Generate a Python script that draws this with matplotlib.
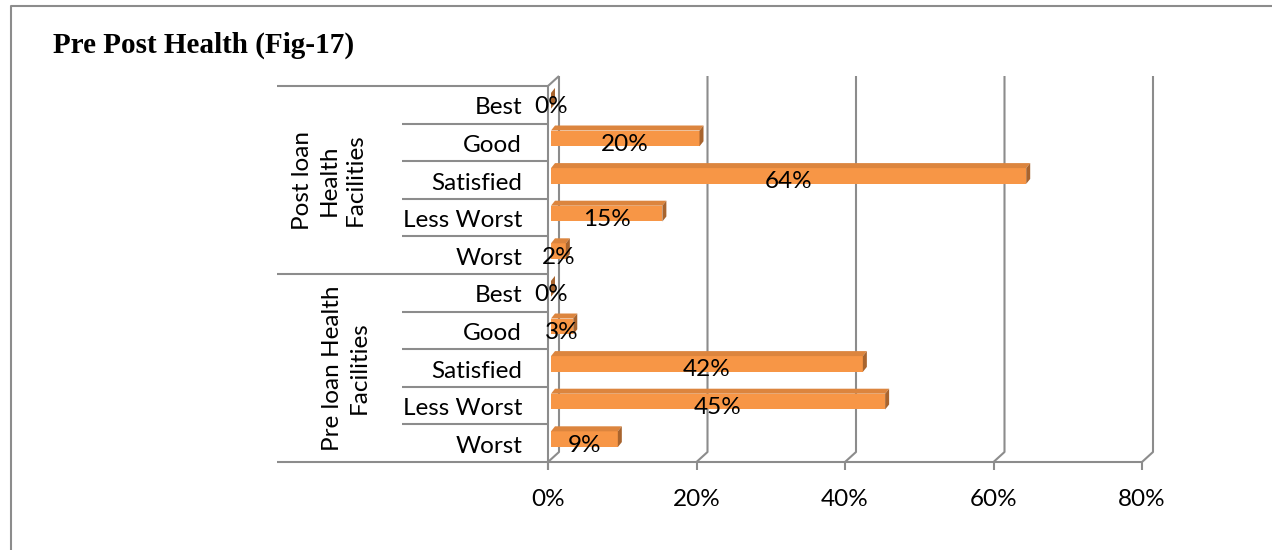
import matplotlib
matplotlib.use("Agg")
import matplotlib.pyplot as plt
from matplotlib.lines import Line2D
from matplotlib.patches import Polygon
from matplotlib.transforms import Affine2D, IdentityTransform, blended_transform_factory

TITLE = "Pre Post Health (Fig-17)"
GROUPS = ["Pre loan Health\nFacilities", "Post loan\nHealth\nFacilities"]
LEVELS = ["Worst", "Less Worst", "Satisfied", "Good", "Best"]
PRE_VALUES = [9, 45, 42, 3, 0]
POST_VALUES = [2, 15, 64, 20, 0]
X_TICKS = [0, 20, 40, 60, 80]

W, H = 1272, 550
GRAY = "#8c8c8c"
FACE = "#f79646"
TOP = "#dc853e"
SIDE = "#a8642e"
FONT = "Lato"
FS = 17.5

WALL = (11, 10)       # depth of the back wall, pixels
BAR_SHIFT = (3, 4)    # bars sit a bit inside the box
BAR_DEPTH = (4, 5)
BAR_H = 0.42

fig = plt.figure(figsize=(W / 100, H / 100), dpi=100)
ax = fig.add_axes([548 / W, (H - 462) / H, 594 / W, 376 / H])
n = len(LEVELS) * 2
ax.set_xlim(0, 80)
ax.set_ylim(0, n)
ax.axis("off")

ident = IdentityTransform()


def px(x, y):
    return ax.transData.transform((x, y))


def shift(dx, dy):
    return ax.transData + Affine2D().translate(dx, dy)


def line(pts, z=1):
    xs, ys = zip(*pts)
    ax.add_line(Line2D(xs, ys, transform=ident, color=GRAY, lw=1.5,
                       solid_capstyle="butt", clip_on=False, zorder=z))


# value gridlines on the back wall, with ticks on the front floor edge
for v in X_TICKS:
    x0, y0 = px(v, 0)
    _, ytop = px(v, n)
    line([(x0, y0), (x0 + WALL[0], y0 + WALL[1]), (x0 + WALL[0], ytop + WALL[1])])
    line([(x0, y0), (x0, y0 - 8)])
    ax.text(v, 0, f"{v}%", transform=shift(0, -38), ha="center", va="center",
            fontsize=FS, family=FONT)

x0, y0 = px(0, 0)
x1, _ = px(80, 0)
_, ytop = px(0, n)
line([(x0, y0), (x1, y0)])
line([(x0, y0 - 8), (x0, ytop), (x0 + WALL[0], ytop + WALL[1])])

# category separators, longer at group boundaries
for k in range(n + 1):
    xl = 277 if k % len(LEVELS) == 0 else 402
    xa, yk = px(0, k)
    line([(xl, yk), (xa, yk)])

values = PRE_VALUES + POST_VALUES
names = LEVELS + LEVELS
ys = [i + 0.5 for i in range(n)]

ax.barh(ys, values, height=BAR_H, color=FACE, transform=shift(*BAR_SHIFT),
        clip_on=False, zorder=3)

slot = px(0, 1)[1] - px(0, 0)[1]
for yc, v, name in zip(ys, values, names):
    xa, ym = px(0, yc)
    xb, _ = px(v, yc)
    xl, xr = xa + BAR_SHIFT[0], xb + BAR_SHIFT[0]
    yt = ym + BAR_SHIFT[1] + BAR_H * slot / 2
    yb = ym + BAR_SHIFT[1] - BAR_H * slot / 2
    dx, dy = BAR_DEPTH
    ax.add_patch(Polygon([(xl, yt), (xr, yt), (xr + dx, yt + dy), (xl + dx, yt + dy)],
                         closed=True, transform=ident, facecolor=TOP, edgecolor="none",
                         clip_on=False, zorder=3))
    ax.add_patch(Polygon([(xr, yb), (xr + dx, yb + dy), (xr + dx, yt + dy), (xr, yt)],
                         closed=True, transform=ident, facecolor=SIDE, edgecolor="none",
                         clip_on=False, zorder=3))
    ax.text(v / 2, yc, f"{v}%", transform=shift(BAR_SHIFT[0], -2), ha="center",
            va="center", fontsize=FS, family=FONT, zorder=4)
    ax.text(0, yc, name, transform=shift(-26, -3), ha="right", va="center",
            fontsize=FS, family=FONT)

# group labels, rotated
grp_tf = blended_transform_factory(ident, ax.transData)
for gy, gx, label in zip([2.5, 7.5], [346, 329], GROUPS):
    ax.text(gx, gy, label, transform=grp_tf, rotation=90, ha="center", va="center",
            multialignment="center", linespacing=1.3, fontsize=FS, family=FONT)

fig.text(53 / W, 1 - 53 / H, TITLE, family="Liberation Serif", weight="bold",
         fontsize=21, va="baseline")

# page frame
fig.add_artist(Line2D([11 / W, 11 / W, 1], [0, 1 - 6 / H, 1 - 6 / H],
                      transform=fig.transFigure, color=GRAY, lw=1.5))

fig.savefig("out.png", dpi=100)
